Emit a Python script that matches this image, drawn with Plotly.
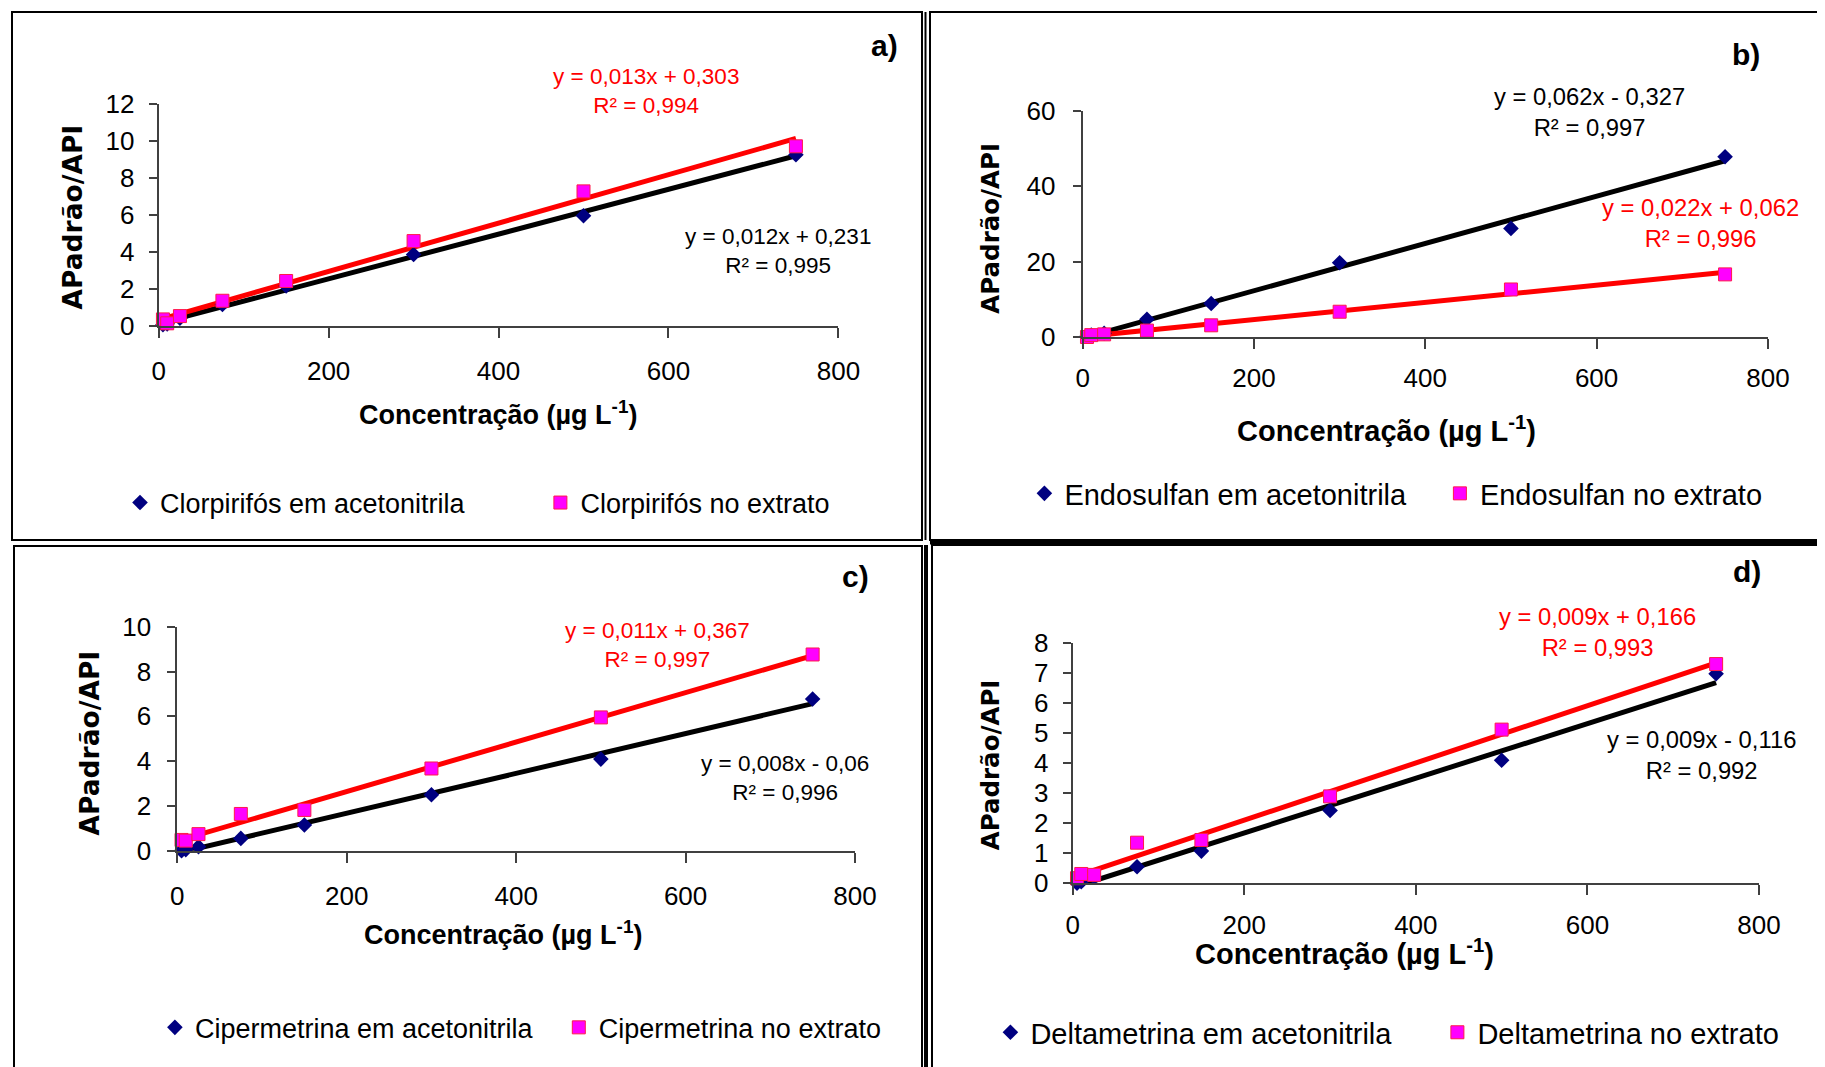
import numpy as np
import plotly.graph_objects as go

W, H = 1825, 1067
OFF = 8  # the page adds an 8 px body margin around the figure

# ---------------- data ----------------
conc = [5, 10, 25, 75, 150, 300, 500, 750]

a_acn = [0.05, 0.10, 0.40, 1.15, 2.15, 3.85, 5.95, 9.25]
a_ext = [0.34, 0.13, 0.52, 1.35, 2.42, 4.58, 7.27, 9.71]
b_acn = [0.2, 0.5, 1.0, 4.7, 8.9, 19.7, 28.8, 47.8]
b_ext = [0.0, 0.5, 0.7, 1.7, 3.1, 6.7, 12.6, 16.6]
c_acn = [0.0, 0.05, 0.18, 0.55, 1.15, 2.50, 4.09, 6.77]
c_ext = [0.48, 0.45, 0.74, 1.64, 1.82, 3.67, 5.95, 8.76]
d_acn = [0.0, 0.05, 0.20, 0.55, 1.07, 2.42, 4.09, 6.97]
d_ext = [0.17, 0.31, 0.28, 1.35, 1.44, 2.89, 5.11, 7.29]

names_acn = ["Clorpirifós em acetonitrila", "Endosulfan em acetonitrila",
             "Cipermetrina em acetonitrila", "Deltametrina em acetonitrila"]
names_ext = ["Clorpirifós no extrato", "Endosulfan no extrato",
             "Cipermetrina no extrato", "Deltametrina no extrato"]
eq_acn = ["y = 0,012x + 0,231<br>R² = 0,995", "y = 0,062x - 0,327<br>R² = 0,997",
          "y = 0,008x - 0,06<br>R² = 0,996", "y = 0,009x - 0,116<br>R² = 0,992"]
eq_ext = ["y = 0,013x + 0,303<br>R² = 0,994", "y = 0,022x + 0,062<br>R² = 0,996",
          "y = 0,011x + 0,367<br>R² = 0,997", "y = 0,009x + 0,166<br>R² = 0,993"]
panel_labels = ["a)", "b)", "c)", "d)"]
y_max = [12, 60, 10, 8]
y_dtick = [2, 20, 2, 1]
x_ticks = [0, 200, 400, 600, 800]

series_acn = [a_acn, b_acn, c_acn, d_acn]
series_ext = [a_ext, b_ext, c_ext, d_ext]

# ---------------- layout geometry (pixels) ----------------
# plot areas: x-left, x-right, y-top, y-bottom
areas = [(158.7, 838.4, 104.0, 325.7),
         (1082.7, 1767.9, 110.7, 337.0),
         (177.3, 855.0, 626.7, 850.7),
         (1072.7, 1759.0, 642.7, 883.3)]
x_standoff = [11, 7, 11, 7]
y_standoff = [9, 12, 11, 9]
eq_ext_pos = [(646, 91), (1700, 223), (657, 644.5), (1597, 632)]
eq_acn_pos = [(778, 251), (1589, 111.7), (785, 778), (1701, 754.5)]
eq_font = [22.5, 23.8, 22.5, 23.8]
lab_pos = [(884.6, 45), (1746, 54.5), (855, 576), (1747, 571)]
xt_pos = [(498, 413), (1386, 428.5), (503, 933), (1344, 952)]
xt_font = [27, 29, 27, 29]
yt_pos = [(72.8, 216.7), (990.7, 228), (89, 743.5), (990.7, 764.6)]
yt_font = [26.5, 24.5, 26.5, 24.5]
leg_y = [503, 493.5, 1027.8, 1032.4]
leg_acn_text_x = [160.6, 1065, 195.5, 1031]
leg_ext_text_x = [581, 1480.5, 599.4, 1478]
leg_font = [27, 29, 27, 29]


def px(x):
    return (x - OFF) / W


def py(y):
    return 1 - (y - OFF) / H


fig = go.Figure()
layout = dict(width=W, height=H,
              margin=dict(l=0, r=0, t=0, b=0, pad=0, autoexpand=False),
              paper_bgcolor="white", plot_bgcolor="white",
              font=dict(family="Liberation Sans, Arial, sans-serif", color="black"),
              annotations=[], shapes=[])

AXC = "#404040"
for i in range(4):
    xl, xr, yt, yb = areas[i]
    xa = "xaxis" if i == 0 else f"xaxis{i+1}"
    ya = "yaxis" if i == 0 else f"yaxis{i+1}"
    xref = "x" if i == 0 else f"x{i+1}"
    yref = "y" if i == 0 else f"y{i+1}"
    layout[xa] = dict(domain=[px(xl), px(xr)], range=[0, 800], tickvals=x_ticks,
                      showline=True, linecolor=AXC, linewidth=2, ticks="outside",
                      ticklen=10, tickwidth=2, tickcolor=AXC, showgrid=False,
                      zeroline=False, tickfont=dict(size=26, color="black"),
                      ticklabelstandoff=x_standoff[i], anchor=yref, fixedrange=True,
                      automargin=False)
    layout[ya] = dict(domain=[py(yb), py(yt)], range=[0, y_max[i]], dtick=y_dtick[i],
                      showline=True, linecolor=AXC, linewidth=2, ticks="outside",
                      ticklen=8, tickwidth=2, tickcolor=AXC, showgrid=False,
                      zeroline=False, tickfont=dict(size=26, color="black"),
                      ticklabelstandoff=y_standoff[i], anchor=xref, fixedrange=True,
                      automargin=False)

    xs = np.array(conc, dtype=float)
    xfit = np.array([xs.min(), xs.max()])
    # trendlines (least-squares fits of the data)
    for ser, col in ((series_acn[i], "black"), (series_ext[i], "#FF0000")):
        k, b0 = np.polyfit(xs, np.array(ser, dtype=float), 1)
        fig.add_trace(go.Scatter(x=xfit, y=k * xfit + b0, mode="lines",
                                 line=dict(color=col, width=5),
                                 showlegend=False, xaxis=xref, yaxis=yref,
                                 hoverinfo="skip"))
    lg1 = f"legend{2*i+1}" if i > 0 else "legend"
    lg2 = f"legend{2*i+2}"
    fig.add_trace(go.Scatter(x=conc, y=series_acn[i], mode="markers",
                             name=names_acn[i],
                             marker=dict(symbol="diamond", size=12, color="#000080"),
                             xaxis=xref, yaxis=yref, legend=lg1, cliponaxis=False))
    fig.add_trace(go.Scatter(x=conc, y=series_ext[i], mode="markers",
                             name=names_ext[i],
                             marker=dict(symbol="square", size=13, color="#FF00FF",
                                         line=dict(color="#FF1A4A", width=1)),
                             xaxis=xref, yaxis=yref, legend=lg2, cliponaxis=False))
    for lg, tx in ((lg1, leg_acn_text_x[i]), (lg2, leg_ext_text_x[i])):
        layout[lg] = dict(x=px(tx - 40.6), y=py(leg_y[i]), xanchor="left",
                          yanchor="middle",
                          bgcolor="rgba(0,0,0,0)", borderwidth=0, itemwidth=30,
                          font=dict(size=leg_font[i], color="black"),
                          tracegroupgap=0)

    ann = layout["annotations"]
    ann.append(dict(text=eq_ext[i], x=px(eq_ext_pos[i][0]), y=py(eq_ext_pos[i][1]),
                    xref="paper", yref="paper", showarrow=False, align="center",
                    xanchor="center", yanchor="middle",
                    font=dict(size=eq_font[i], color="#FF0000")))
    ann.append(dict(text=eq_acn[i], x=px(eq_acn_pos[i][0]), y=py(eq_acn_pos[i][1]),
                    xref="paper", yref="paper", showarrow=False, align="center",
                    xanchor="center", yanchor="middle",
                    font=dict(size=eq_font[i], color="black")))
    ann.append(dict(text="<b>" + panel_labels[i] + "</b>", x=px(lab_pos[i][0]),
                    y=py(lab_pos[i][1]), xref="paper", yref="paper", showarrow=False,
                    xanchor="center", yanchor="middle", font=dict(size=30, color="black")))
    ann.append(dict(text="<b>Concentração (µg L<sup>-1</sup>)</b>", x=px(xt_pos[i][0]),
                    y=py(xt_pos[i][1]), xref="paper", yref="paper", showarrow=False,
                    xanchor="center", yanchor="middle",
                    font=dict(size=xt_font[i], color="black")))
    ann.append(dict(text="<b>APadrão/API</b>", x=px(yt_pos[i][0]), y=py(yt_pos[i][1]),
                    xref="paper", yref="paper", showarrow=False, textangle=-90,
                    xanchor="center", yanchor="middle",
                    font=dict(size=yt_font[i], color="black",
                              family="DejaVu Sans, Liberation Sans, sans-serif")))

# panel borders
shp = layout["shapes"]
def rect(x0, y0, x1, y1, w=2):
    shp.append(dict(type="rect", xref="paper", yref="paper", x0=px(x0), x1=px(x1),
                    y0=py(y1), y1=py(y0), line=dict(color="black", width=w),
                    fillcolor="rgba(0,0,0,0)", layer="below"))

def hline(x0, x1, y, w):
    shp.append(dict(type="line", xref="paper", yref="paper", x0=px(x0), x1=px(x1),
                    y0=py(y), y1=py(y), line=dict(color="black", width=w)))

def vline(x, y0, y1, w):
    shp.append(dict(type="line", xref="paper", yref="paper", x0=px(x), x1=px(x),
                    y0=py(y0), y1=py(y1), line=dict(color="black", width=w)))

rect(12, 12, 922, 540)
rect(930, 12, 1840, 540)
rect(14, 546, 922, 1085)
rect(932, 545, 1840, 1085)
hline(930, 1833, 542, 5)
vline(926, 545, 1075, 4)
vline(925.5, 12, 540, 2)

fig.update_layout(**layout)
fig.write_html("out.html")
